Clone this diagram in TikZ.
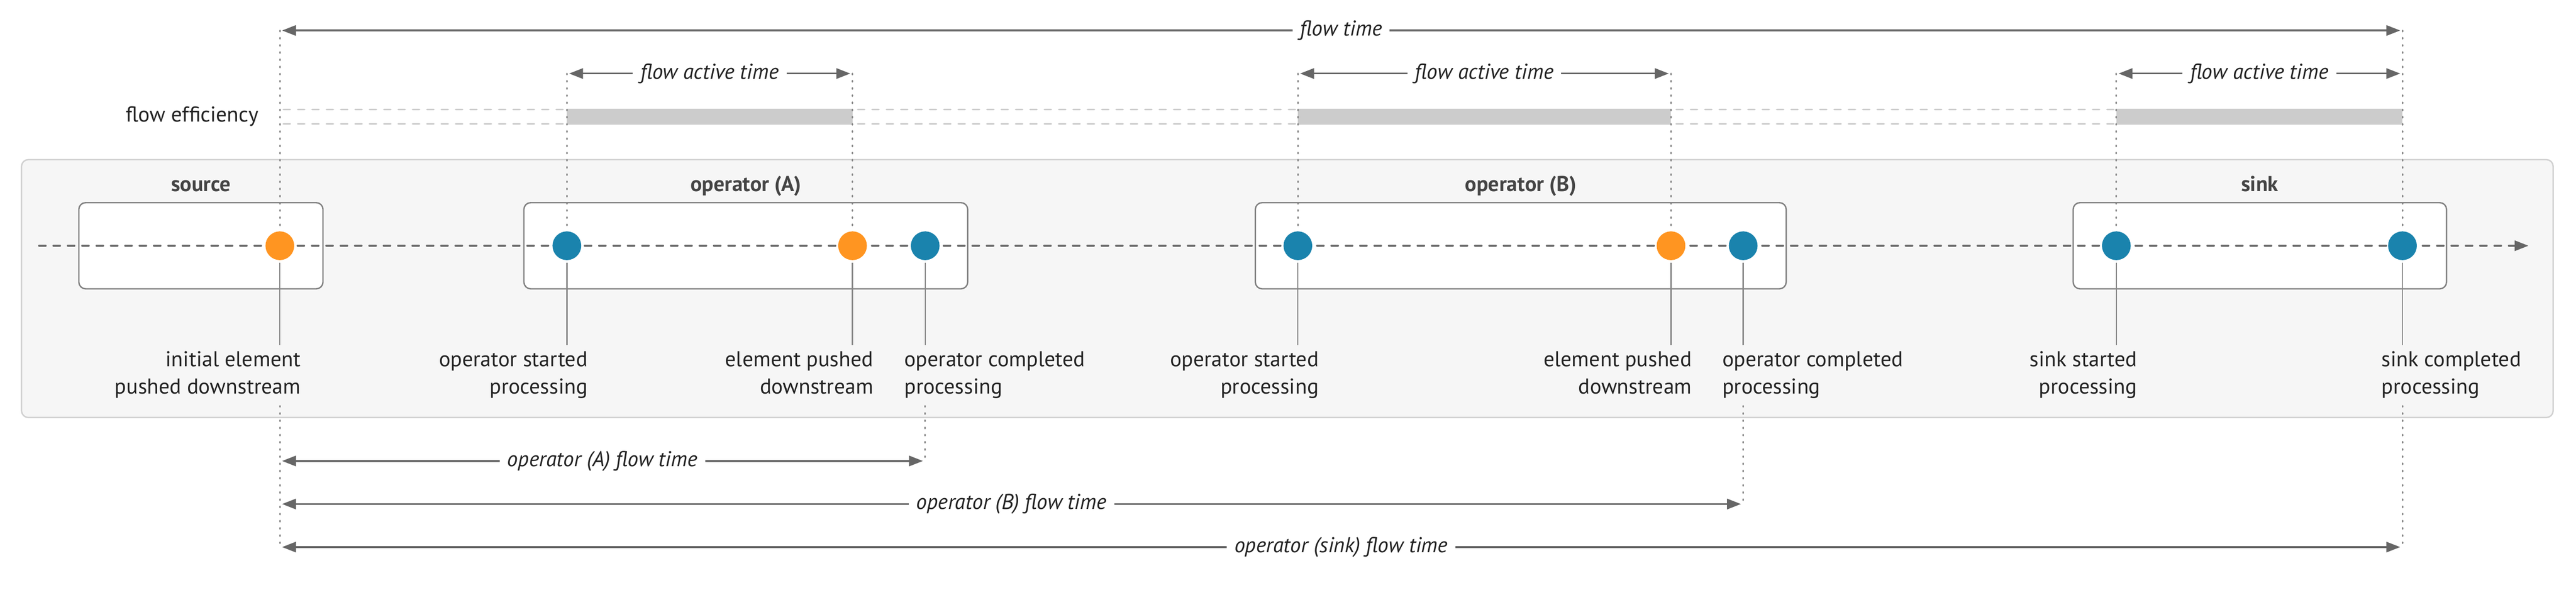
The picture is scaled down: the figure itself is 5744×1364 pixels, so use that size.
\documentclass[tikz,border=0pt]{standalone}
\usepackage{fontspec}
\setmainfont{PT Sans}
\usetikzlibrary{arrows.meta}
\definecolor{panelgray}{HTML}{F6F6F6}
\definecolor{panelline}{HTML}{D0D0D0}
\definecolor{boxline}{HTML}{808080}
\definecolor{flowgray}{HTML}{666666}
\definecolor{guidegray}{HTML}{888888}
\definecolor{effgray}{HTML}{CCCCCC}
\definecolor{pushorange}{HTML}{FF9521}
\definecolor{busyblue}{HTML}{1A83AD}
\definecolor{labelblack}{HTML}{222222}
\definecolor{titlegray}{HTML}{444444}
\newcommand{\eventfont}{\fontsize{13.66}{17.36}\selectfont}

\begin{document}
\begin{tikzpicture}[x=0.01cm, y=-0.01cm,
    panel/.style={fill=panelgray, draw=panelline, line width=0.03cm, rounded corners=0.15cm},
    stage/.style={fill=white, draw=boxline, line width=0.03cm, rounded corners=0.15cm, inner sep=0, minimum height=1.92cm},
    stagename/.style={font=\eventfont\bfseries, text=titlegray, anchor=base},
    event/.style={circle, inner sep=0, minimum size=0.64cm},
    pushed/.style={event, fill=pushorange},
    busy/.style={event, fill=busyblue},
    flowline/.style={draw=flowgray, line width=0.04cm, dash pattern=on 0.15cm off 0.17cm, line cap=round},
    effline/.style={draw=effgray, line width=0.04cm, dash pattern=on 0.15cm off 0.17cm, line cap=round},
    guide/.style={draw=guidegray, line width=0.035cm, dash pattern=on 0.025cm off 0.135cm, line cap=round},
    tick/.style={draw=guidegray, line width=0.03cm, shorten <=0.05cm, shorten >=0.13cm},
    timespan/.style={draw=flowgray, line width=0.04cm, line cap=round, shorten <=0.05cm, shorten >=0.05cm,
      {Triangle[length=0.31cm,width=0.23cm]}-{Triangle[length=0.31cm,width=0.23cm]}},
    spanname/.style={fill=white, inner xsep=0.17cm, inner ysep=0.02cm, font=\eventfont\itshape, text=labelblack},
    eventname/.style={font=\eventfont, text=labelblack, inner sep=0}]
  \useasboundingbox (0,0) rectangle (5744,1364);

  % grey background panel
  \path[panel] (48,356) rectangle (5693,931);

  % flow efficiency
  \node[eventname, anchor=east] (effname) at (577,259) {flow efficiency};
  \draw[effline] (632,244) -- (5357,244);
  \draw[effline] (632,276) -- (5357,276);
  \fill[effgray] (1264,242) rectangle (1901,278);
  \fill[effgray] (2894,242) rectangle (3726,278);
  \fill[effgray] (4719,242) rectangle (5357,278);

  % stages
  \node[stage, minimum width=5.44cm] (srcbox) at (448,548) {};
  \node[stage, minimum width=9.89cm] (abox) at (1663,548) {};
  \node[stage, minimum width=11.83cm] (bbox) at (3391,548) {};
  \node[stage, minimum width=8.32cm] (snkbox) at (5039,548) {};
  \node[stagename] (srctitle) at (448,427) {source};
  \node[stagename] (atitle) at (1663,427) {operator (A)};
  \node[stagename] (btitle) at (3391,427) {operator (B)};
  \node[stagename] (snktitle) at (5039,427) {sink};

  % element flow
  \coordinate (flowin) at (87,548);
  \coordinate (flowout) at (5638,548);
  \draw[flowline, -{Triangle[length=0.31cm,width=0.23cm]}] (flowin) -- (flowout);

  \node[pushed] (src) at (624,548) {};
  \node[busy] (astart) at (1264,548) {};
  \node[pushed] (apush) at (1901,548) {};
  \node[busy] (adone) at (2063,548) {};
  \node[busy] (bstart) at (2894,548) {};
  \node[pushed] (bpush) at (3726,548) {};
  \node[busy] (bdone) at (3887,548) {};
  \node[busy] (snkstart) at (4719,548) {};
  \node[busy] (snkdone) at (5357,548) {};

  % event labels
  \node[eventname, anchor=north east, align=right] (srcname) at (671,783) {initial element\\pushed downstream};
  \node[eventname, anchor=north east, align=right] (astartname) at (1311,783) {operator started\\processing};
  \node[eventname, anchor=north east, align=right] (apushname) at (1948,783) {element pushed\\downstream};
  \node[eventname, anchor=north west, align=left] (adonename) at (2016,783) {operator completed\\processing};
  \node[eventname, anchor=north east, align=right] (bstartname) at (2941,783) {operator started\\processing};
  \node[eventname, anchor=north east, align=right] (bpushname) at (3773,783) {element pushed\\downstream};
  \node[eventname, anchor=north west, align=left] (bdonename) at (3840,783) {operator completed\\processing};
  \node[eventname, anchor=north east, align=right] (snkstartname) at (4766,783) {sink started\\processing};
  \node[eventname, anchor=north west, align=left] (snkdonename) at (5310,783) {sink completed\\processing};

  \draw[tick] (src.south) -- (src |- srcname.north);
  \draw[tick] (astart.south) -- (astart |- astartname.north);
  \draw[tick] (apush.south) -- (apush |- apushname.north);
  \draw[tick] (adone.south) -- (adone |- adonename.north);
  \draw[tick] (bstart.south) -- (bstart |- bstartname.north);
  \draw[tick] (bpush.south) -- (bpush |- bpushname.north);
  \draw[tick] (bdone.south) -- (bdone |- bdonename.north);
  \draw[tick] (snkstart.south) -- (snkstart |- snkstartname.north);
  \draw[tick] (snkdone.south) -- (snkdone |- snkdonename.north);

  % time spans
  \coordinate (ftl) at (624,68);
  \coordinate (ftr) at (5357,68);
  \coordinate (aal) at (1264,164);
  \coordinate (aar) at (1901,164);
  \coordinate (bal) at (2894,164);
  \coordinate (bar) at (3726,164);
  \coordinate (kal) at (4719,164);
  \coordinate (kar) at (5357,164);
  \coordinate (aftl) at (624,1028);
  \coordinate (aftr) at (2063,1028);
  \coordinate (bftl) at (624,1124);
  \coordinate (bftr) at (3887,1124);
  \coordinate (kftl) at (624,1220);
  \coordinate (kftr) at (5357,1220);

  \draw[guide] (ftl) -- (src.north);
  \draw[guide] (ftr) -- (snkdone.north);
  \draw[guide] (aal) -- (astart.north);
  \draw[guide] (aar) -- (apush.north);
  \draw[guide] (bal) -- (bstart.north);
  \draw[guide] (bar) -- (bpush.north);
  \draw[guide] (kal) -- (snkstart.north);
  \draw[guide] (src |- 0,905) -- (kftl);
  \draw[guide] (adone |- 0,905) -- (aftr);
  \draw[guide] (bdone |- 0,905) -- (bftr);
  \draw[guide] (snkdone |- 0,905) -- (kftr);

  \draw[timespan] (ftl) -- node[spanname] (ftname) {flow time} (ftr);
  \draw[timespan] (aal) -- node[spanname] (aaname) {flow active time} (aar);
  \draw[timespan] (bal) -- node[spanname] (baname) {flow active time} (bar);
  \draw[timespan] (kal) -- node[spanname] (kaname) {flow active time} (kar);
  \draw[timespan] (aftl) -- node[spanname] (aftname) {operator (A) flow time} (aftr);
  \draw[timespan] (bftl) -- node[spanname] (bftname) {operator (B) flow time} (bftr);
  \draw[timespan] (kftl) -- node[spanname] (kftname) {operator (sink) flow time} (kftr);
\end{tikzpicture}
\end{document}
